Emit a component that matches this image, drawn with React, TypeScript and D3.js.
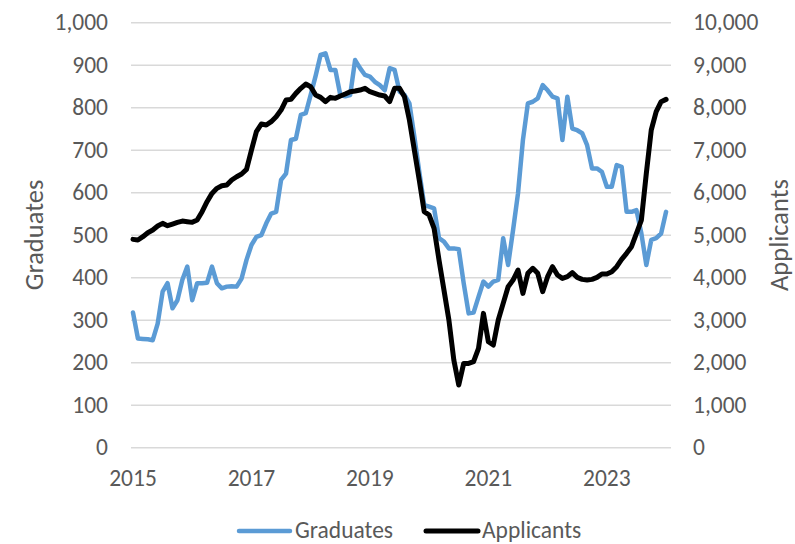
import React from "react";
import * as d3 from "d3";

// monthly values, Jan 2015 .. Jan 2024
const graduates = [
  318, 257, 256, 255, 253, 292, 367, 387, 328, 347, 395, 426,
  347, 387, 387, 388, 426, 387, 375, 379, 380, 379, 398, 442,
  477, 496, 500, 528, 551, 555, 630, 645, 724, 727, 783, 787,
  830, 875, 924, 928, 889, 889, 830, 827, 830, 912, 893, 877,
  873, 861, 853, 841, 893, 889, 838, 830, 810, 732, 649, 571,
  567, 563, 493, 485, 469, 469, 467, 387, 316, 318, 355, 391,
  379, 391, 395, 493, 430, 512, 598, 724, 810, 814, 822, 853,
  841, 826, 822, 724, 826, 751, 747, 740, 712, 657, 657, 649,
  614, 614, 665, 661, 555, 555, 559, 504, 430, 489, 493, 504,
  555,
];

const applicants = [
  4902, 4886, 4965, 5059, 5122, 5216, 5278, 5224, 5263, 5302, 5333, 5318,
  5302, 5357, 5553, 5788, 5984, 6102, 6165, 6180, 6298, 6376, 6439, 6549,
  7004, 7435, 7616, 7592, 7671, 7788, 7945, 8180, 8196, 8337, 8455, 8557,
  8494, 8298, 8243, 8141, 8243, 8220, 8275, 8322, 8376, 8392, 8416, 8455,
  8376, 8337, 8298, 8275, 8141, 8455, 8455, 8259, 7710, 7004, 6298, 5553,
  5475, 5161, 4416, 3710, 3004, 2063, 1475, 1984, 1984, 2024, 2337, 3161,
  2494, 2416, 3004, 3396, 3788, 3945, 4180, 3631, 4102, 4220, 4102, 3671,
  4024, 4259, 4063, 3984, 4024, 4118, 4008, 3961, 3945, 3961, 4008, 4086,
  4086, 4141, 4259, 4431, 4573, 4729, 5043, 5357, 6455, 7475, 7906, 8141,
  8196,
];

const yearTicks = [2015, 2017, 2019, 2021, 2023];
const leftTicks = [0, 100, 200, 300, 400, 500, 600, 700, 800, 900, 1000];
const rightTicks = [0, 1000, 2000, 3000, 4000, 5000, 6000, 7000, 8000, 9000, 10000];

const W = 795;
const H = 544;
const FONT = "Carlito, Calibri, sans-serif";
const TXT = "#595959";

const App = () => {
  const left = 133;
  const right = 671;
  const top = 22.7;
  const bottom = 447.7;

  const x = d3.scaleLinear().domain([0, 109]).range([left, right]);
  const yL = d3.scaleLinear().domain([0, 1000]).range([bottom, top]);
  const yR = d3.scaleLinear().domain([0, 10000]).range([bottom, top]);
  const fmt = d3.format(",");

  const gradLine = d3
    .line<number>()
    .x((d, i) => x(i))
    .y((d) => yL(d));
  const appLine = d3
    .line<number>()
    .x((d, i) => x(i))
    .y((d) => yR(d));

  return (
    <svg
      width={W}
      height={H}
      style={{ position: "absolute", left: 0, top: 0, background: "#fff" }}
      fontFamily={FONT}
    >
      {leftTicks.map((t) => (
        <line
          key={"g" + t}
          x1={left - 2}
          x2={right}
          y1={yL(t)}
          y2={yL(t)}
          stroke="#d9d9d9"
          strokeWidth={1.5}
        />
      ))}
      {leftTicks.map((t) => (
        <text
          key={"l" + t}
          x={108}
          y={yL(t)}
          dy="0.33em"
          textAnchor="end"
          fontSize={23.5}
          fill={TXT}
        >
          {fmt(t)}
        </text>
      ))}
      {rightTicks.map((t) => (
        <text
          key={"r" + t}
          x={693}
          y={yR(t)}
          dy="0.33em"
          textAnchor="start"
          fontSize={23.5}
          fill={TXT}
        >
          {fmt(t)}
        </text>
      ))}
      {yearTicks.map((yr) => (
        <text
          key={"x" + yr}
          x={x((yr - 2015) * 12)}
          y={478}
          dy="0.33em"
          textAnchor="middle"
          fontSize={23.5}
          fill={TXT}
        >
          {yr}
        </text>
      ))}
      <text
        transform="translate(43,235) rotate(-90)"
        textAnchor="middle"
        fontSize={26.5}
        fill={TXT}
      >
        Graduates
      </text>
      <text
        transform="translate(788,235) rotate(-90)"
        textAnchor="middle"
        fontSize={26.5}
        fill={TXT}
      >
        Applicants
      </text>

      <path
        d={gradLine(graduates) || ""}
        fill="none"
        stroke="#5b9bd5"
        strokeWidth={4.5}
        strokeLinejoin="round"
        strokeLinecap="round"
      />
      <path
        d={appLine(applicants) || ""}
        fill="none"
        stroke="#000"
        strokeWidth={5}
        strokeLinejoin="round"
        strokeLinecap="round"
      />

      <line x1={239} x2={290} y1={531} y2={531} stroke="#5b9bd5" strokeWidth={4.5} strokeLinecap="round" />
      <text x={295} y={530} dy="0.33em" fontSize={23.5} fill={TXT}>
        Graduates
      </text>
      <line x1={426} x2={478} y1={531} y2={531} stroke="#000" strokeWidth={5} strokeLinecap="round" />
      <text x={482} y={530} dy="0.33em" fontSize={23.5} fill={TXT}>
        Applicants
      </text>
    </svg>
  );
};

export default App;
